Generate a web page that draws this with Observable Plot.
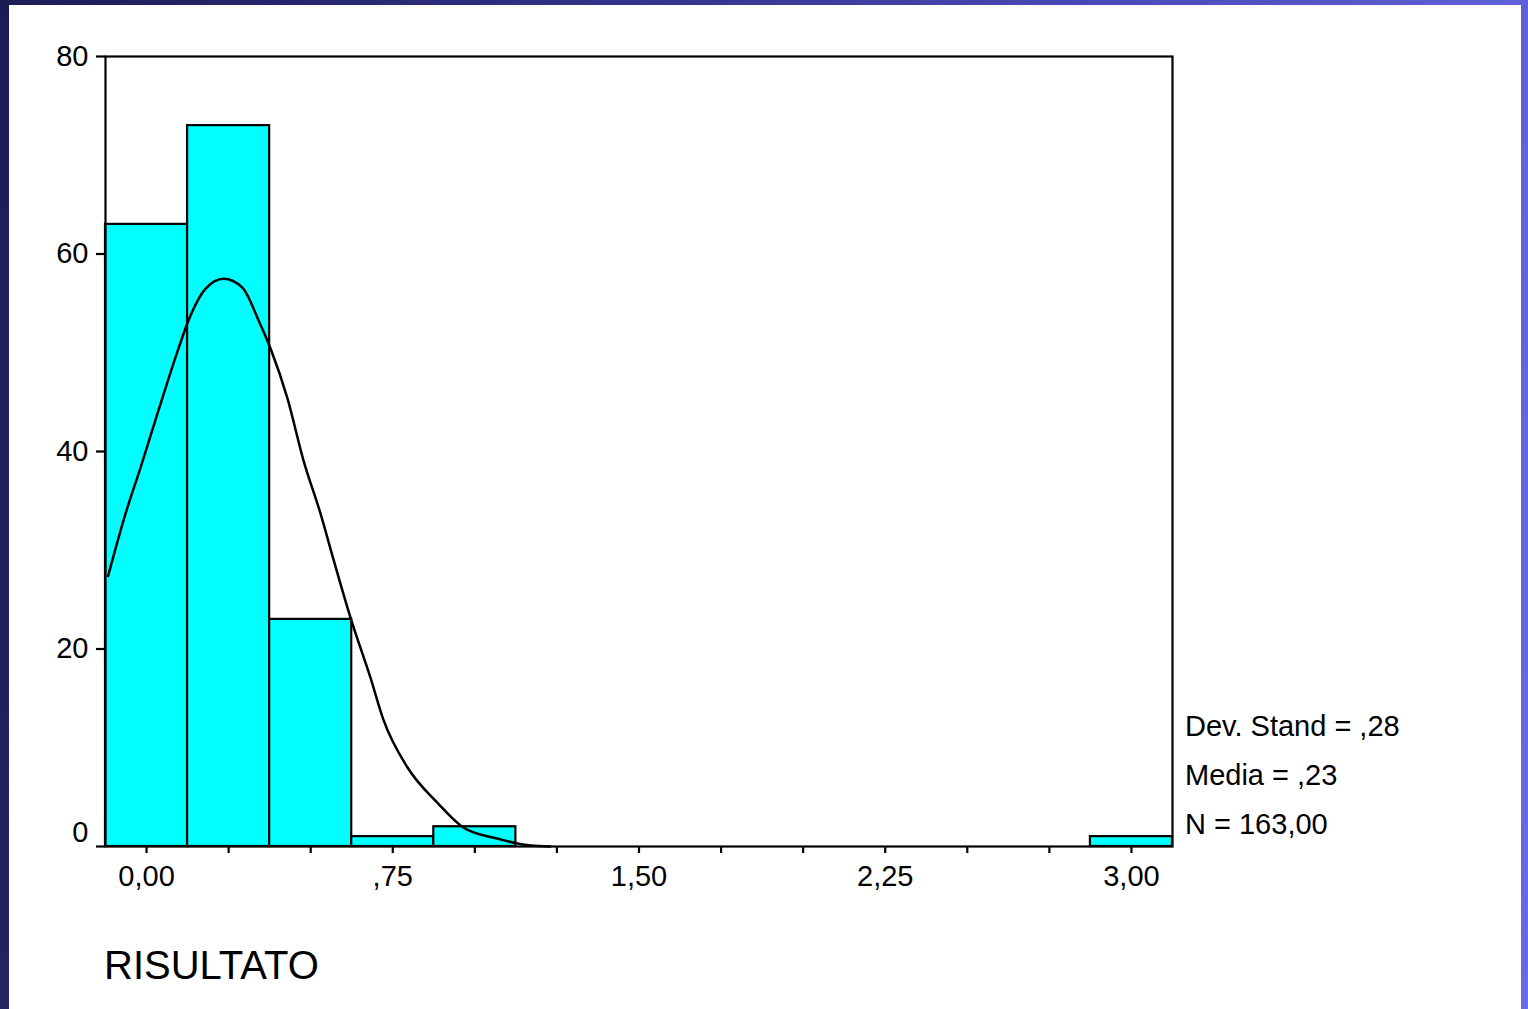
<!DOCTYPE html>
<html>
<head>
<meta charset="utf-8">
<script src="https://cdn.jsdelivr.net/npm/d3@7"></script>
<script src="https://cdn.jsdelivr.net/npm/@observablehq/plot@0.6"></script>
<style>
  html, body { margin: 0; padding: 0; }
  body {
    width: 1528px; height: 1009px; overflow: hidden; position: relative;
    background: linear-gradient(100deg, #1c1c55 0%, #2e2e80 30%, #4a4ab8 65%, #6a6ae6 100%);
    font-family: "Liberation Sans", Arial, sans-serif;
  }
  #panel { position: absolute; left: 9px; top: 5px; width: 1512px; height: 1004px; background: #ffffff; }
  #chart { position: absolute; left: 0; top: 0; }
  .note { position: absolute; font-size: 29px; color: #000; line-height: 1; white-space: nowrap; }
  #xtitle { position: absolute; left: 104px; top: 945px; font-size: 40px; color: #000; line-height: 1; }
</style>
</head>
<body>
<div id="panel"></div>
<div id="chart"></div>
<div class="note" id="s1" style="left:1185px; top:712px;"></div>
<div class="note" id="s2" style="left:1185px; top:761px;"></div>
<div class="note" id="s3" style="left:1185px; top:810px;"></div>
<div id="xtitle"></div>
<script>
// ---- data ----
const binCenters = [0, 0.25, 0.5, 0.75, 1.0, 3.0];
const binCounts  = [63, 73, 23, 1, 2, 1];
const binWidth = 0.25;

// normal curve
const curveX = [-0.117, -0.064, -0.018, 0.033, 0.088, 0.128, 0.180, 0.235, 0.292, 0.341, 0.378, 0.429, 0.478, 0.530, 0.570, 0.621, 0.682, 0.722, 0.795, 0.887, 0.966, 1.069, 1.130, 1.170, 1.230];
const curveY = [27.4, 33.7, 38.4, 43.8, 49.5, 53.3, 56.5, 57.5, 56.6, 53.3, 50.4, 45.4, 39.1, 33.7, 29.0, 23.2, 17.1, 12.8, 8.0, 4.4, 1.9, 0.8, 0.3, 0.1, 0.0];

const xTicks = [0, 0.25, 0.5, 0.75, 1.0, 1.25, 1.5, 1.75, 2.0, 2.25, 2.5, 2.75, 3.0];
const xLabelValues = [0, 0.75, 1.5, 2.25, 3.0];
const xLabels = ["0,00", ",75", "1,50", "2,25", "3,00"];
const yTicks = [0, 20, 40, 60, 80];
const yLabels = ["0", "20", "40", "60", "80"];

const stats = ["Dev. Stand = ,28", "Media = ,23", "N = 163,00"];
const xTitle = "RISULTATO";

// ---- build ----
const bars = binCenters.map((c, i) => ({x1: c - binWidth / 2, x2: c + binWidth / 2, y: binCounts[i]}));
const curve = curveX.map((x, i) => ({x, y: curveY[i]}));

const xFmt = v => {
  const i = xLabelValues.findIndex(t => Math.abs(t - v) < 1e-9);
  return i >= 0 ? xLabels[i] : "";
};

const plot = Plot.plot({
  width: 1528,
  height: 1009,
  marginTop: 56,
  marginLeft: 105,
  marginRight: 356,
  marginBottom: 163,
  style: {background: "transparent", fontFamily: "'Liberation Sans', Arial, sans-serif", fontSize: "29px", color: "#000"},
  x: {domain: [-0.125, 3.125]},
  y: {domain: [0, 80]},
  marks: [
    Plot.rectY(bars, {x1: "x1", x2: "x2", y: "y", fill: "#00ffff", stroke: "#000", strokeWidth: 2.2}),
    Plot.line(curve, {x: "x", y: "y", stroke: "#000", strokeWidth: 2.5, curve: "monotone-x"}),
    Plot.axisX({ticks: xTicks, tickSize: 7, tickPadding: 12, tickFormat: xFmt, label: null, fontSize: 29, strokeWidth: 2.2}),
    Plot.axisY({ticks: yTicks.filter(t => t !== 0), tickSize: 9, tickPadding: 8, tickFormat: v => yLabels[yTicks.indexOf(v)], label: null, fontSize: 29, strokeWidth: 2.2}),
    Plot.axisY({ticks: [0], tickSize: 9, tickFormat: () => "", label: null, strokeWidth: 2.2}),
    Plot.axisY({ticks: [0], tickSize: 0, tickPadding: 17, dy: -14, tickFormat: v => yLabels[yTicks.indexOf(v)], label: null, fontSize: 29}),
    Plot.frame({stroke: "#000", strokeWidth: 2.2})
  ]
});
document.getElementById("chart").appendChild(plot);

document.getElementById("s1").textContent = stats[0];
document.getElementById("s2").textContent = stats[1];
document.getElementById("s3").textContent = stats[2];
document.getElementById("xtitle").textContent = xTitle;
</script>
</body>
</html>
